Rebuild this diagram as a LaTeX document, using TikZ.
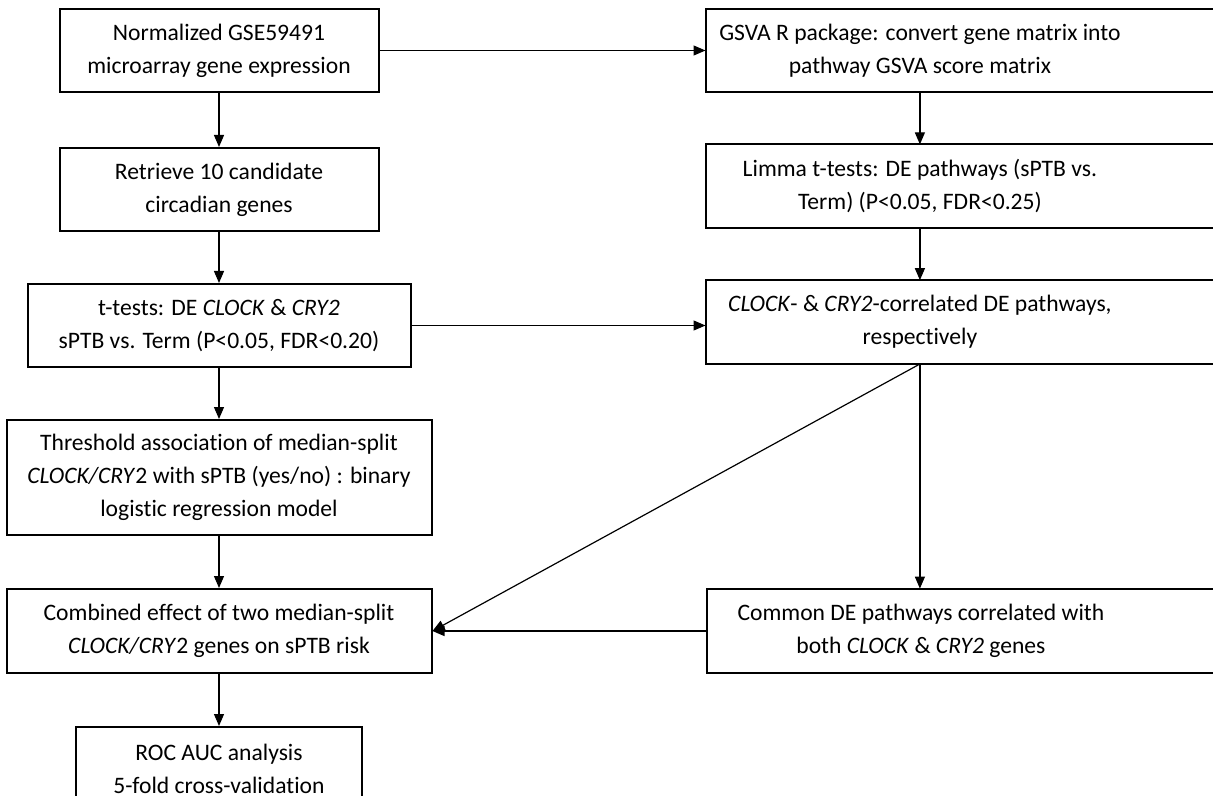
\documentclass[tikz,border=0pt]{standalone}
\usepackage{fontspec}
\setmainfont{Carlito}[Ligatures=CommonOff]
\usepackage{tikz}
\usetikzlibrary{arrows.meta, positioning}
\tikzset{box/.style={draw, line width=1pt, align=center, minimum height=41.5pt, inner sep=2pt},
  openbox/.style={align=center, minimum width=214pt, minimum height=41.5pt, inner sep=2pt},
  flow/.style={->, line width=0.6pt}}

\begin{document}
\begin{tikzpicture}[>={Triangle[length=6pt,width=5pt]}, x=0.5pt, y=-0.5pt, node distance=26pt, font=\fontsize{11.8}{16.5}\selectfont]
\useasboundingbox (0,0) rectangle (1213,796);
\clip (0,0) rectangle (1213,796);
\node[box, minimum width=159.5pt] (l1) at (219,50.5) {Normalized GSE59491\\microarray gene expression};
\node[box, minimum width=159.5pt, below=27pt of l1] (l2) {Retrieve 10 candidate\\circadian genes};
\node[box, minimum width=191.5pt, below=25.5pt of l2] (l3) {t-tests: DE \textit{CLOCK} \& \textit{CRY2}\\sPTB vs. Term (P<0.05, FDR<0.20)};
\node[box, minimum width=212.5pt, minimum height=57.5pt, below=25.5pt of l3] (l4) {Threshold association of median-split\\\textit{CLOCK/CRY}2 with sPTB (yes/no) : binary\\logistic regression model};
\node[box, minimum width=212.5pt, minimum height=42pt, below=26pt of l4] (l5) {Combined effect of two median-split\\\textit{CLOCK/CRY}2 genes on sPTB risk};
\node[box, minimum width=143pt, below=26pt of l5] (l6) {ROC AUC analysis\\5-fold cross-validation};
\node[openbox, right=163pt of l1] (r1) {GSVA R package: convert gene matrix into\\pathway GSVA score matrix};
\node[openbox, below=26pt of r1] (r2) {Limma t-tests: DE pathways (sPTB vs.\\Term) (P<0.05, FDR<0.25)};
\node[openbox, below=26pt of r2] (r3) {\textit{CLOCK}- \& \textit{CRY2}-correlated DE pathways,\\respectively};
\node[openbox, minimum height=42pt, right=137pt of l5] (r4) {Common DE pathways correlated with\\both \textit{CLOCK} \& \textit{CRY2} genes};
\foreach \r in {r1, r2, r3, r4}
  \draw[line width=1pt] ([xshift=40pt]\r.north east) -- (\r.north west) -- (\r.south west) -- ([xshift=40pt]\r.south east);
\draw[flow] (l1) -- (l2);
\draw[flow] (l2) -- (l3);
\draw[flow] (l3) -- (l4);
\draw[flow] (l4) -- (l5);
\draw[flow] (l5) -- (l6);
\draw[flow] (l1.east) -- (l1.east -| r1.west);
\draw[flow] (r1) -- (r2);
\draw[flow] (r2) -- (r3);
\draw[flow] (l3.east) -- (l3.east -| r3.west);
\draw[flow] (r3.south) -- (r3.south |- r4.north);
\draw[flow] (r3.south) -- (l5.east);
\draw[flow] (r4) -- (l5);
\end{tikzpicture}
\end{document}
